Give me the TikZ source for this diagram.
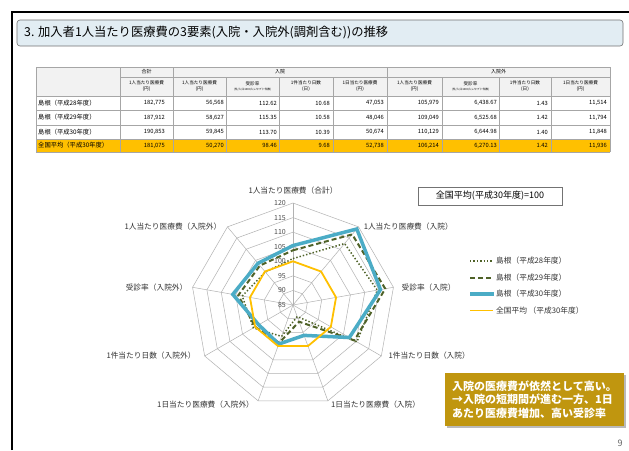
\documentclass[tikz,border=0pt]{standalone}
\usepackage{fontspec}
\setmainfont{Noto Sans CJK JP}
\usetikzlibrary{positioning,shadows}

\definecolor{tblgray}{HTML}{A6A6A6}
\definecolor{hdrfill}{HTML}{F2F2F2}
\definecolor{avgyellow}{HTML}{FFC000}
\definecolor{shimaolive}{HTML}{4F6228}
\definecolor{shimablue}{HTML}{4BACC6}
\definecolor{titlefill}{HTML}{E2EDF3}
\definecolor{notegold}{HTML}{C0960F}
\newcommand\radscale{2.914}

\tikzset{
  tline/.style={draw=tblgray, line width=0.5pt},
  hdra/.style={inner sep=0pt, font=\fontsize{5}{6}\selectfont},
  hdrb/.style={inner sep=0pt, align=center, font=\fontsize{4.6}{5.6}\selectfont},
  rowlab/.style={anchor=west, inner sep=0pt, font=\fontsize{6.3}{7}\selectfont},
  num/.style={anchor=east, inner sep=0pt, font=\fontsize{5.8}{7}\selectfont},
  gridline/.style={draw=black!30, line width=0.5pt},
  tick/.style={anchor=east, inner sep=0pt, text=black!70, font=\fontsize{7}{8}\selectfont},
  axlab/.style={inner sep=0pt, text=black!80, font=\fontsize{7.7}{9}\selectfont},
  s28/.style={draw=shimaolive, line width=1.5pt, dash pattern=on 1.4pt off 2pt},
  s29/.style={draw=shimaolive, line width=2pt, dash pattern=on 5pt off 3pt},
  s30/.style={draw=shimablue, line width=3.5pt},
  savg/.style={draw=avgyellow, line width=1.8pt},
  legtxt/.style={anchor=west, inner sep=0pt, text=black!80, font=\fontsize{7.7}{9}\selectfont},
}

\begin{document}
\begin{tikzpicture}[x=1pt, y=-1pt]
  \useasboundingbox (0,0) rectangle (629,450);
  \fill[white] (0,0) rectangle (629,450);
  \draw[line width=1.5pt] (12,450) -- (12,12) -- (629,12);

  \draw[draw=black!55, fill=titlefill, rounded corners=3pt, line width=0.6pt] (17,20) rectangle (623,46);
  \node[anchor=west, inner sep=0pt, font=\fontsize{12.3}{14}\selectfont] (title) at (24,33) {3. 加入者1人当たり医療費の3要素(入院・入院外(調剤含む))の推移};

  \fill[hdrfill] (36,67) rectangle (610,96);
  \fill[avgyellow] (36,139) rectangle (610,152);
  \foreach \y in {67,96,110,125,139,152} \draw[tline] (36,\y) -- (610,\y);
  \draw[tline] (120,77) -- (610,77);
  \foreach \x in {36,120,173,387,610} \draw[tline] (\x,67) -- (\x,152);
  \foreach \x in {226,279,333,442,499,551} \draw[tline] (\x,77) -- (\x,152);

  \node[hdra] (hsum) at (146.5,72) {合計};
  \node[hdra] (hin) at (280,72) {入院};
  \node[hdra] (hout) at (498.5,72) {入院外};
  \foreach \hd [count=\col] in {{1人当たり医療費\\(円)},{1人当たり医療費\\(円)},{受診率\\[-0.5pt]{\fontsize{2.8}{3.2}\selectfont (件/人口1000人レセプト件数)}},{1件当たり日数\\(日)},{1日当たり医療費\\(円)},{1人当たり医療費\\(円)},{受診率\\[-0.5pt]{\fontsize{2.8}{3.2}\selectfont (件/人口1000人レセプト件数)}},{1件当たり日数\\(日)},{1日当たり医療費\\(円)}} {
    \pgfmathsetmacro\xc{{146.5,199.5,252.5,306,360,414.5,470.5,525,580.5}[\col-1]}
    \node[hdrb] (h\col) at (\xc,86) {\hd};
  }

  \node[rowlab] (r1) at (38,103) {島根（平成28年度）};
  \foreach \v [count=\col] in {{182,775},{56,568},{112.62},{10.68},{47,053},{105,979},{6,438.67},{1.43},{11,514}} {
    \pgfmathsetmacro\xr{{165,224,277,330,384,439,497,548,607}[\col-1]}
    \node[num] (r1c\col) at (\xr,103) {\v};
  }
  \node[rowlab] (r2) at (38,117.5) {島根（平成29年度）};
  \foreach \v [count=\col] in {{187,912},{58,627},{115.35},{10.58},{48,046},{109,049},{6,525.68},{1.42},{11,794}} {
    \pgfmathsetmacro\xr{{165,224,277,330,384,439,497,548,607}[\col-1]}
    \node[num] (r2c\col) at (\xr,117.5) {\v};
  }
  \node[rowlab] (r3) at (38,132) {島根（平成30年度）};
  \foreach \v [count=\col] in {{190,853},{59,845},{113.70},{10.39},{50,674},{110,129},{6,644.98},{1.40},{11,848}} {
    \pgfmathsetmacro\xr{{165,224,277,330,384,439,497,548,607}[\col-1]}
    \node[num] (r3c\col) at (\xr,132) {\v};
  }
  \node[rowlab] (r4) at (38,145.5) {全国平均（平成30年度）};
  \foreach \v [count=\col] in {{181,075},{50,270},{98.46},{9.68},{52,738},{106,214},{6,270.13},{1.42},{11,936}} {
    \pgfmathsetmacro\xr{{165,224,277,330,384,439,497,548,607}[\col-1]}
    \node[num] (r4c\col) at (\xr,145.5) {\v};
  }

  \begin{scope}[shift={(293,305)}, yscale=-1]
    \coordinate (ctr) at (0,0);
    \foreach \k in {1,...,7}
      \draw[gridline] (90:{\k*5*\radscale}) \foreach \a in {50,10,...,-230} {-- (\a:{\k*5*\radscale})} -- cycle;
    \foreach \a [count=\i from 0] in {90,50,...,-230} {
      \coordinate (ax\i) at (\a:{35*\radscale});
      \draw[gridline] (ctr) -- (ax\i);
    }
    \foreach \tv in {85,90,...,120}
      \node[tick] (tk\tv) at (-7,{(\tv-85)*\radscale}) {\tv};

    \foreach \v [count=\i from 0] in {100.94,112.53,114.38,110.33,89.22,96.46,100.70,102.69,99.78}
      \coordinate (p28-\i) at ({90-40*\i}:{(\v-85)*\radscale});
    \foreach \v [count=\i from 0] in {103.78,116.62,117.15,109.30,91.10,98.81,100.00,104.08,102.67}
      \coordinate (p29-\i) at ({90-40*\i}:{(\v-85)*\radscale});
    \foreach \v [count=\i from 0] in {105.40,119.05,115.48,107.33,96.09,99.26,98.59,105.98,103.69}
      \coordinate (p30-\i) at ({90-40*\i}:{(\v-85)*\radscale});
    \foreach \v [count=\i from 0] in {100,100,100,100,100,100,100,100,100}
      \coordinate (pav-\i) at ({90-40*\i}:{(\v-85)*\radscale});

    \draw[s28] (p28-0) \foreach \i in {1,...,8} {-- (p28-\i)} -- cycle;
    \draw[s29] (p29-0) \foreach \i in {1,...,8} {-- (p29-\i)} -- cycle;
    \draw[s30] (p30-0) \foreach \i in {1,...,8} {-- (p30-\i)} -- cycle;
    \draw[savg] (pav-0) \foreach \i in {1,...,8} {-- (pav-\i)} -- cycle;
  \end{scope}

  \node[axlab, above=9pt of ax0] (lb0) {1人当たり医療費（合計）};
  \node[axlab, right=5pt of ax1] (lb1) {1人当たり医療費（入院）};
  \node[axlab, right=8pt of ax2] (lb2) {受診率（入院）};
  \node[axlab, right=7pt of ax3] (lb3) {1件当たり日数（入院）};
  \node[axlab, below right=0pt and 3pt of ax4] (lb4) {1日当たり医療費（入院）};
  \node[axlab, below left=0pt and 4pt of ax5] (lb5) {1日当たり医療費（入院外）};
  \node[axlab, left=9pt of ax6] (lb6) {1件当たり日数（入院外）};
  \node[axlab, left=5pt of ax7] (lb7) {受診率（入院外）};
  \node[axlab, left=6pt of ax8] (lb8) {1人当たり医療費（入院外）};

  \node[draw=black!55, line width=0.6pt, minimum width=144pt, minimum height=18pt, inner sep=0pt, font=\fontsize{9}{10}\selectfont] (base) at (490,196) {全国平均(平成30年度)=100};

  \node[legtxt] (lg28) at (496,261) {島根（平成28年度）};
  \node[legtxt] (lg29) at (496,277.5) {島根（平成29年度）};
  \node[legtxt] (lg30) at (496,294) {島根（平成30年度）};
  \node[legtxt] (lgav) at (496,310.5) {全国平均 （平成30年度）};
  \draw[s28] ([xshift=-26pt]lg28.west) -- ([xshift=-3pt]lg28.west);
  \draw[s29] ([xshift=-26pt]lg29.west) -- ([xshift=-3pt]lg29.west);
  \draw[s30] ([xshift=-26pt]lg30.west) -- ([xshift=-2pt]lg30.west);
  \draw[savg] ([xshift=-26pt]lgav.west) -- ([xshift=-3pt]lgav.west);

  \node[fill=notegold, text=white, font=\bfseries\fontsize{11}{13.5}\selectfont, align=left, minimum width=179pt, minimum height=53pt, inner sep=0pt, drop shadow={shadow xshift=2pt, shadow yshift=-2pt, fill=black!45, opacity=0.6}] (msg) at (534.5,399.5) {入院の医療費が依然として高い。\\→入院の短期間が進む一方、1日\\あたり医療費増加、高い受診率};

  \node[text=black!60, inner sep=0pt, font=\fontsize{9}{10}\selectfont] (pg) at (620,443) {9};
\end{tikzpicture}
\end{document}
